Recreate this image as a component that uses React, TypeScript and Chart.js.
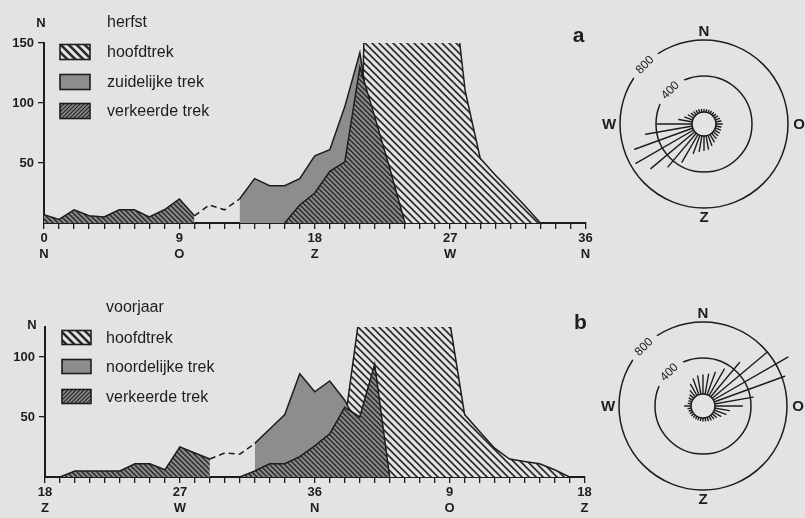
import React, { useEffect, useRef } from 'react';
import { Chart, registerables } from 'chart.js';

Chart.register(...registerables);

const PAPER = '#e3e3e3';
const INK = '#1d1d1d';
const GRAY = '#8d8d8d';
const FONT = '"Liberation Sans", Arial, Helvetica, sans-serif';
const N = null;

// x positions: 36 direction classes of 10 degrees
const directionIndex = [
  '0', '1', '2', '3', '4', '5', '6', '7', '8', '9', '10', '11', '12', '13', '14', '15', '16', '17', '18',
  '19', '20', '21', '22', '23', '24', '25', '26', '27', '28', '29', '30', '31', '32', '33', '34', '35', '36',
];

// ---------- a: herfst ----------
const herfstTickNumbers = ['0', '9', '18', '27', '36'];
const herfstTickDirections = ['N', 'O', 'Z', 'W', 'N'];
const herfstYTicks = [50, 100, 150];
const herfstLegend = ['hoofdtrek', 'zuidelijke trek', 'verkeerde trek'];
const herfstHoofdtrek = [
  N, N, N, N, N, N, N, N, N, N, N, N, N, N, N, N, N, N, N, N, N,
  0, 570, 630, 700, 650, 480, 221, 110, 54, 40, 27, 14, 0,
  N, N, N,
];
const herfstZuidelijk = [
  N, N, N, N, N, N, N, N, N, N, N, N, N,
  20, 37, 31, 31, 37, 56, 61, 97, 142, 60, 20, 0,
  N, N, N, N, N, N, N, N, N, N, N, N,
];
const herfstVerkeerd = [
  7, 3, 11, 6, 5, 11, 11, 5, 11, 20, 6,
  N, N, N, N, N,
  0, 15, 25, 43, 51, 130, 88, 45, 0,
  N, N, N, N, N, N, N, N, N, N, N, N,
];
const herfstOnzeker = [
  N, N, N, N, N, N, N, N, N, N,
  6, 15, 11, 20,
  N, N, N, N, N, N, N, N, N, N, N, N, N, N, N, N, N, N, N, N, N, N, N,
];
const roseHerfst = [
  28, 27, 27, 28, 30, 33, 40, 50, 58, 70, 58, 60, 62, 65, 75, 95, 120, 150,
  160, 175, 215, 356, 489, 638, 741, 686, 524, 385, 151, 93, 67, 50, 42, 38, 35, 30,
];

// ---------- b: voorjaar ----------
const voorjaarTickNumbers = ['18', '27', '36', '9', '18'];
const voorjaarTickDirections = ['Z', 'W', 'N', 'O', 'Z'];
const voorjaarYTicks = [50, 100];
const voorjaarLegend = ['hoofdtrek', 'noordelijke trek', 'verkeerde trek'];
const voorjaarHoofdtrek = [
  N, N, N, N, N, N, N, N, N, N, N, N, N, N, N, N, N, N, N,
  0, 45, 137, 450, 750, 900, 800, 400, 130, 52, 38, 24, 15, 13, 11, 6, 0,
  N,
];
const voorjaarNoordelijk = [
  N, N, N, N, N, N, N, N, N, N, N, N, N, N,
  28, 40, 52, 86, 71, 80, 64, 40, 20, 0,
  N, N, N, N, N, N, N, N, N, N, N, N, N,
];
const voorjaarVerkeerd = [
  N, 0, 5, 5, 5, 5, 11, 11, 6, 25, 20, 15,
  N,
  0, 5, 11, 11, 17, 26, 36, 58, 50, 94, 0,
  N, N, N, N, N, N, N, N, N, N, N, N, N,
];
const voorjaarOnzeker = [
  N, N, N, N, N, N, N, N, N, N, N,
  15, 20, 19, 28,
  N, N, N, N, N, N, N, N, N, N, N, N, N, N, N, N, N, N, N, N, N, N,
];
const roseVoorjaar = [
  211, 225, 265, 340, 498, 787, 955, 833, 432, 304, 165, 139, 95, 60, 50, 45, 40, 35,
  33, 30, 30, 28, 28, 30, 30, 30, 35, 70, 33, 33, 44, 55, 89, 144, 186, 205,
];

// rose scale
const roseCardinals = ['N', 'O', 'Z', 'W'];
const roseRings = [400, 800];
const roseMin = -133.33;
const roseMax = 1088.9;

function hatch(size: number, width: number, dir: 'back' | 'fwd', ink: string, bg: string | null) {
  const c = document.createElement('canvas');
  c.width = size;
  c.height = size;
  const g = c.getContext('2d')!;
  if (bg) {
    g.fillStyle = bg;
    g.fillRect(0, 0, size, size);
  }
  g.strokeStyle = ink;
  g.lineWidth = width;
  g.beginPath();
  for (const o of [-size, 0, size]) {
    if (dir === 'back') {
      g.moveTo(o - 1, -1);
      g.lineTo(o + size + 1, size + 1);
    } else {
      g.moveTo(o - 1, size + 1);
      g.lineTo(o + size + 1, -1);
    }
  }
  g.stroke();
  return g.createPattern(c, 'repeat')!;
}

type Spec = {
  hoofd: (number | null)[];
  gray: (number | null)[];
  verk: (number | null)[];
  dashed: (number | null)[];
  tickNums: string[];
  tickDirs: string[];
  yMax: number;
  yTicks: number[];
  legend: string[];
  season: string;
  letter: string;
  box: { top: number; height: number; padTop: number; padRight: number; yWidth: number; xHeight: number };
  marks: {
    yTitle: number[];
    season: number[];
    letter: number[];
    keyX: number;
    keyW: number;
    keyH: number;
    textX: number;
    rows: number[];
  };
};

const herfstSpec: Spec = {
  hoofd: herfstHoofdtrek,
  gray: herfstZuidelijk,
  verk: herfstVerkeerd,
  dashed: herfstOnzeker,
  tickNums: herfstTickNumbers,
  tickDirs: herfstTickDirections,
  yMax: 150,
  yTicks: herfstYTicks,
  legend: herfstLegend,
  season: 'herfst',
  letter: 'a',
  box: { top: 0, height: 261, padTop: 43, padRight: 14.5, yWidth: 44, xHeight: 38 },
  marks: { yTitle: [41, 23], season: [107, 23], letter: [578.5, 36], keyX: 60, keyW: 30, keyH: 15, textX: 107, rows: [52, 82, 111] },
};

const voorjaarSpec: Spec = {
  hoofd: voorjaarHoofdtrek,
  gray: voorjaarNoordelijk,
  verk: voorjaarVerkeerd,
  dashed: voorjaarOnzeker,
  tickNums: voorjaarTickNumbers,
  tickDirs: voorjaarTickDirections,
  yMax: 125,
  yTicks: voorjaarYTicks,
  legend: voorjaarLegend,
  season: 'voorjaar',
  letter: 'b',
  box: { top: 270, height: 248, padTop: 57, padRight: 15.5, yWidth: 45, xHeight: 41 },
  marks: { yTitle: [32, 55], season: [106, 38], letter: [580.5, 53], keyX: 62, keyW: 29, keyH: 14, textX: 106, rows: [67.5, 96.5, 126.5] },
};

function areaConfig(spec: Spec): any {
  const hoofdArea = hatch(7, 1.6, 'back', '#2a2a2a', PAPER);
  const verkArea = hatch(5, 1.4, 'back', '#262626', '#8a8a8a');
  const hoofdKey = hatch(8, 2.6, 'back', '#2a2a2a', PAPER);
  const verkKey = hatch(4, 1.2, 'fwd', '#262626', '#8a8a8a');
  const keyFills: any[] = [hoofdKey, GRAY, verkKey];
  const m = spec.marks;

  const decor = {
    id: 'decor',
    afterDraw(chart: any) {
      const ctx = chart.ctx as CanvasRenderingContext2D;
      ctx.save();
      ctx.textBaseline = 'middle';
      ctx.fillStyle = INK;
      ctx.font = `bold 13px ${FONT}`;
      ctx.textAlign = 'center';
      ctx.fillText('N', m.yTitle[0], m.yTitle[1]);
      ctx.font = `16px ${FONT}`;
      ctx.textAlign = 'left';
      ctx.fillText(spec.season, m.season[0], m.season[1]);
      spec.legend.forEach((name, i) => {
        const yc = m.rows[i];
        ctx.fillStyle = keyFills[i];
        ctx.fillRect(m.keyX, yc - m.keyH / 2, m.keyW, m.keyH);
        ctx.strokeStyle = INK;
        ctx.lineWidth = 1.6;
        ctx.strokeRect(m.keyX, yc - m.keyH / 2, m.keyW, m.keyH);
        ctx.fillStyle = INK;
        ctx.fillText(name, m.textX, yc + 1);
      });
      ctx.font = `bold 21px ${FONT}`;
      ctx.textAlign = 'center';
      ctx.fillText(spec.letter, m.letter[0], m.letter[1]);
      ctx.restore();
    },
  };

  const line = { borderColor: INK, borderWidth: 1.5, pointRadius: 0, tension: 0 };

  return {
    type: 'line',
    data: {
      labels: directionIndex,
      datasets: [
        { ...line, label: spec.legend[2], data: spec.verk, order: 0, fill: 'origin', backgroundColor: verkArea },
        { ...line, label: '', data: spec.dashed, order: 1, fill: false, borderDash: [6, 4] },
        { ...line, label: spec.legend[1], data: spec.gray, order: 2, fill: 'origin', backgroundColor: GRAY },
        { ...line, label: spec.legend[0], data: spec.hoofd, order: 3, fill: 'origin', backgroundColor: hoofdArea },
      ],
    },
    options: {
      animation: false,
      responsive: false,
      devicePixelRatio: 1,
      layout: { padding: { top: spec.box.padTop, right: spec.box.padRight, left: 0, bottom: 0 } },
      plugins: { legend: { display: false }, tooltip: { enabled: false }, title: { display: false } },
      scales: {
        x: {
          type: 'category',
          offset: false,
          afterFit: (s: any) => {
            s.height = spec.box.xHeight;
          },
          grid: { display: true, offset: false, drawOnChartArea: false, drawTicks: true, tickLength: 6, color: INK, lineWidth: 1.3 },
          border: { display: true, color: INK, width: 2 },
          ticks: {
            autoSkip: false,
            maxRotation: 0,
            minRotation: 0,
            padding: 2,
            color: INK,
            font: { family: FONT, size: 13, weight: 'bold', lineHeight: 1.2 },
            callback: (_v: any, i: number) => (i % 9 === 0 ? [spec.tickNums[i / 9], spec.tickDirs[i / 9]] : ''),
          },
        },
        y: {
          min: 0,
          max: spec.yMax,
          afterBuildTicks: (s: any) => {
            s.ticks = spec.yTicks.map((v) => ({ value: v }));
          },
          afterFit: (s: any) => {
            s.width = spec.box.yWidth;
          },
          grid: { drawOnChartArea: false, drawTicks: true, tickLength: 6, color: INK, lineWidth: 1.3 },
          border: { display: true, color: INK, width: 2 },
          ticks: { color: INK, padding: 4, font: { family: FONT, size: 13, weight: 'bold' } },
        },
      },
    },
    plugins: [decor],
  };
}

function roseConfig(values: number[]): any {
  const labels: string[] = [];
  for (let i = 0; i < values.length * 2; i++) {
    labels.push(i % 18 === 0 ? roseCardinals[i / 18] : '');
  }
  const spokes = values.flatMap((v) => [v, roseMin]);

  const roseDecor = {
    id: 'roseDecor',
    afterDatasetsDraw(chart: any) {
      const s = chart.scales.r;
      const ctx = chart.ctx as CanvasRenderingContext2D;
      const cx = s.xCenter;
      const cy = s.yCenter;
      ctx.save();
      const r0 = s.getDistanceFromCenterForValue(0);
      ctx.beginPath();
      ctx.arc(cx, cy, r0, 0, Math.PI * 2);
      ctx.fillStyle = PAPER;
      ctx.fill();
      ctx.lineWidth = 1.6;
      ctx.strokeStyle = INK;
      ctx.stroke();

      ctx.textAlign = 'center';
      ctx.textBaseline = 'middle';
      ctx.font = `12px ${FONT}`;
      for (const v of roseRings) {
        const d = s.getDistanceFromCenterForValue(v);
        const x = cx - d * Math.SQRT1_2;
        const y = cy - d * Math.SQRT1_2;
        ctx.save();
        ctx.translate(x, y);
        ctx.rotate(-Math.PI / 4);
        const w = ctx.measureText(String(v)).width + 14;
        ctx.fillStyle = PAPER;
        ctx.fillRect(-w / 2, -5, w, 10);
        ctx.fillStyle = INK;
        ctx.fillText(String(v), 0, 0.5);
        ctx.restore();
      }

      ctx.font = `bold 15px ${FONT}`;
      ctx.fillStyle = INK;
      (chart.data.labels as string[]).forEach((lab, i) => {
        if (!lab) return;
        const d = i % 36 === 0 ? 93 : 95;
        const p = s.getPointPosition(i, d);
        ctx.fillText(lab, p.x, p.y + 0.5);
      });
      ctx.restore();
    },
  };

  return {
    type: 'radar',
    data: {
      labels,
      datasets: [
        {
          data: spokes,
          borderColor: INK,
          borderWidth: 1.4,
          borderJoinStyle: 'round',
          backgroundColor: 'rgba(0,0,0,0)',
          fill: false,
          pointRadius: 0,
          tension: 0,
          clip: false,
        },
      ],
    },
    options: {
      animation: false,
      responsive: false,
      devicePixelRatio: 1,
      layout: { padding: 0 },
      plugins: { legend: { display: false }, tooltip: { enabled: false } },
      scales: {
        r: {
          min: roseMin,
          max: roseMax,
          afterBuildTicks: (s: any) => {
            s.ticks = [roseMin, ...roseRings].map((v) => ({ value: v }));
          },
          ticks: { display: false },
          pointLabels: { display: false },
          angleLines: { display: false },
          grid: { circular: true, color: INK, lineWidth: 1.5 },
        },
      },
    },
    plugins: [roseDecor],
  };
}

function AreaChart({ spec }: { spec: Spec }) {
  const ref = useRef<HTMLCanvasElement>(null);
  useEffect(() => {
    const chart = new Chart(ref.current!, areaConfig(spec));
    return () => chart.destroy();
  }, []);
  return (
    <canvas
      ref={ref}
      width={600}
      height={spec.box.height}
      style={{ position: 'absolute', left: 0, top: spec.box.top, width: 600, height: spec.box.height, display: 'block' }}
    />
  );
}

function RoseChart({ values, left, top }: { values: number[]; left: number; top: number }) {
  const ref = useRef<HTMLCanvasElement>(null);
  useEffect(() => {
    const chart = new Chart(ref.current!, roseConfig(values));
    return () => chart.destroy();
  }, []);
  return (
    <canvas
      ref={ref}
      width={220}
      height={220}
      style={{ position: 'absolute', left, top, width: 220, height: 220, display: 'block' }}
    />
  );
}

export default function App() {
  return (
    <div
      style={{
        position: 'absolute',
        left: 0,
        top: 0,
        width: 805,
        height: 518,
        background: PAPER,
        overflow: 'hidden',
      }}
    >
      <AreaChart spec={herfstSpec} />
      <AreaChart spec={voorjaarSpec} />
      <RoseChart values={roseHerfst} left={594} top={14} />
      <RoseChart values={roseVoorjaar} left={593} top={296} />
    </div>
  );
}
